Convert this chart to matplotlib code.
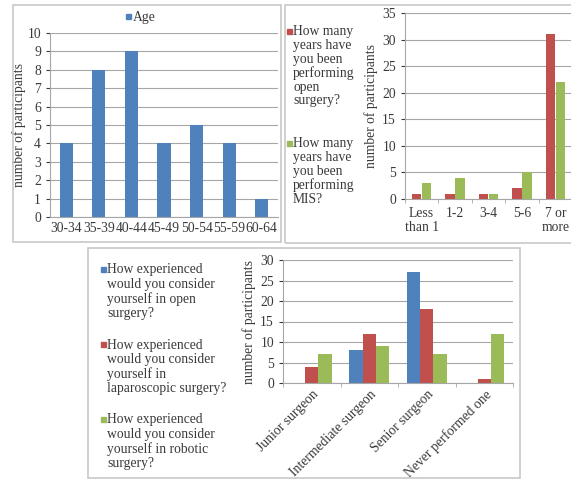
import matplotlib
matplotlib.use('Agg')
import matplotlib.pyplot as plt
from matplotlib.patches import Rectangle
import numpy as np

plt.rcParams['font.family'] = ['Liberation Serif', 'DejaVu Serif']
plt.rcParams['font.size'] = 9.8

C_BLUE = '#4F81BD'
C_RED = '#C0504D'
C_GREEN = '#9BBB59'
C_GRID = '#a6a6a6'
C_TXT = '#3a3a3a'
C_BORDER = '#c8c8c8'

# data
age_groups = ['30-34', '35-39', '40-44', '45-49', '50-54', '55-59', '60-64']
age_counts = [4, 8, 9, 4, 5, 4, 1]

year_cats = ['Less\nthan 1', '1-2', '3-4', '5-6', '7 or\nmore']
years_open = [1, 1, 1, 2, 31]
years_mis = [3, 4, 1, 5, 22]
years_labels = ['How many\nyears have\nyou been\nperforming\nopen\nsurgery?',
                'How many\nyears have\nyou been\nperforming\nMIS?']

exp_cats = ['Junior surgeon', 'Intermediate surgeon', 'Senior surgeon', 'Never performed one']
exp_open = [0, 8, 27, 0]
exp_lap = [4, 12, 18, 1]
exp_rob = [7, 9, 7, 12]
exp_labels = ['How experienced\nwould you consider\nyourself in open\nsurgery?',
              'How experienced\nwould you consider\nyourself in\nlaparoscopic surgery?',
              'How experienced\nwould you consider\nyourself in robotic\nsurgery?']

W, H = 571, 479
fig = plt.figure(figsize=(W / 100, H / 100), dpi=100)


def ax_px(l, t, r, b):
    return fig.add_axes([l / W, 1 - b / H, (r - l) / W, (b - t) / H])


def border(l, t, r, b):
    fig.patches.append(Rectangle((l / W, 1 - b / H), (r - l) / W, (b - t) / H,
                                 transform=fig.transFigure, fill=False,
                                 edgecolor=C_BORDER, lw=1.2))


def style(ax, top, step):
    ax.set_ylim(0, top)
    ax.set_yticks(np.arange(0, top + 1, step))
    ax.yaxis.grid(True, color=C_GRID, lw=0.8)
    ax.set_axisbelow(True)
    for s in ['top', 'right']:
        ax.spines[s].set_visible(False)
    for s in ['left', 'bottom']:
        ax.spines[s].set_color(C_GRID)
    ax.tick_params(colors=C_TXT, length=3, width=0.8)
    ax.tick_params(axis='x', length=0)
    for t in ax.get_xticklabels() + ax.get_yticklabels():
        t.set_color(C_TXT)


def legend_px(x, ys, colors, labels, ls=1.11):
    for y, c, lab in zip(ys, colors, labels):
        fig.patches.append(Rectangle(((x - 6) / W, 1 - (y + 0.5) / H), 4.5 / W, 4.5 / H,
                                     transform=fig.transFigure, color=c))
        fig.text(x / W, 1 - (y - 7.5) / H, lab, ha='left', va='top', color=C_TXT,
                 linespacing=ls)


border(13, 5, 281, 242)
border(285, 5, 575, 243)
border(88, 248, 520, 478)

# panel 1: age
ax1 = ax_px(50, 33, 278, 217)
x1 = np.arange(len(age_groups))
ax1.bar(x1, age_counts, width=0.4, color=C_BLUE)
ax1.set_xlim(-0.5, len(age_groups) - 0.5)
style(ax1, 10, 1)
ax1.set_xticks(x1)
ax1.set_xticklabels(age_groups, color=C_TXT)
ax1.set_ylabel('number of participants', color=C_TXT, labelpad=1)
fig.patches.append(Rectangle((126 / W, 1 - 19 / H), 4.5 / W, 4.5 / H,
                             transform=fig.transFigure, color=C_BLUE))
fig.text(133 / W, 1 - 17 / H, 'Age', ha='left', va='center', color=C_TXT)

# panel 2: years
ax2 = ax_px(405, 13, 572, 199)
x2 = np.arange(len(year_cats))
ax2.bar(x2 - 0.15, years_open, width=0.28, color=C_RED)
ax2.bar(x2 + 0.15, years_mis, width=0.28, color=C_GREEN)
ax2.set_xlim(-0.5, len(year_cats) - 0.5)
style(ax2, 35, 5)
ax2.set_xticks(x2)
ax2.set_xticklabels(year_cats, color=C_TXT, linespacing=1.05)
ax2.tick_params(axis='x', pad=6)
ax2.set_xticks(np.arange(-0.5, len(year_cats)), minor=True)
ax2.tick_params(axis='x', which='minor', length=3, color=C_GRID)
ax2.set_ylabel('number of participants', color=C_TXT, labelpad=3)
legend_px(293, [33, 145], [C_RED, C_GREEN], years_labels, ls=1.06)

# panel 3: experience
ax3 = ax_px(283, 260, 513, 383)
x3 = np.arange(len(exp_cats))
ax3.bar(x3 - 0.23, exp_open, width=0.23, color=C_BLUE)
ax3.bar(x3, exp_lap, width=0.23, color=C_RED)
ax3.bar(x3 + 0.23, exp_rob, width=0.23, color=C_GREEN)
ax3.set_xlim(-0.5, len(exp_cats) - 0.5)
style(ax3, 30, 5)
ax3.set_xticks(x3)
ax3.set_xticklabels(exp_cats, color=C_TXT, rotation=45, ha='right',
                    rotation_mode='anchor')
ax3.set_xticks(np.arange(-0.5, len(exp_cats)), minor=True)
ax3.tick_params(axis='x', which='minor', length=3, color=C_GRID)
ax3.set_ylabel('number of participants', color=C_TXT, labelpad=3)
legend_px(107, [271, 346, 421], [C_BLUE, C_RED, C_GREEN], exp_labels, ls=1.11)

fig.savefig('out.png', dpi=100)
plt.close(fig)
